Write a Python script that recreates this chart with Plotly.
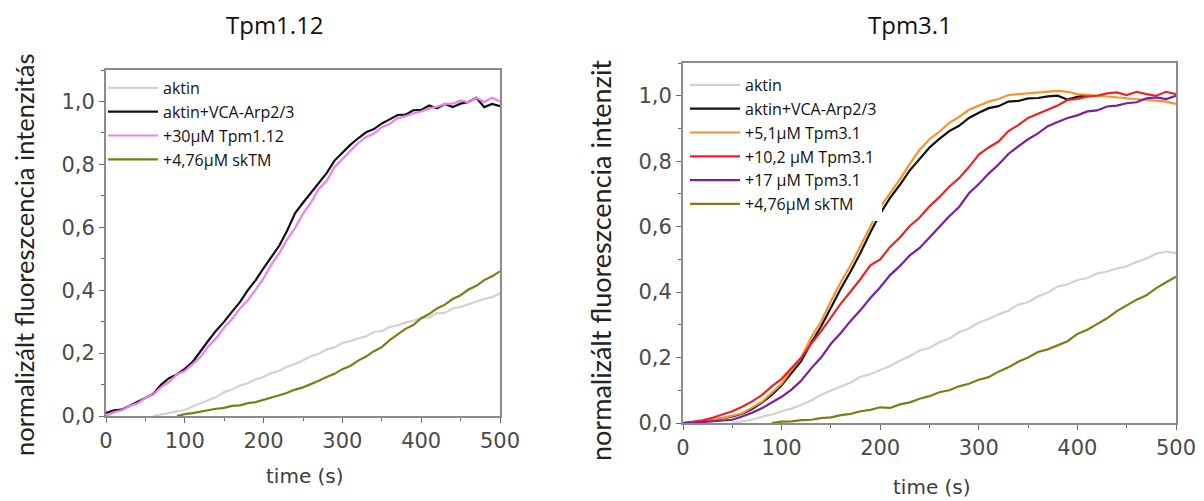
import plotly.graph_objects as go

# ---------------- data (10 s steps) ----------------
t = list(range(0, 510, 10))

# Left panel: Tpm1.12
L_aktin_t = list(range(60, 510, 10))
L_aktin = [0.0, 0.005, 0.01, 0.017, 0.02, 0.03, 0.04, 0.052, 0.06, 0.076, 0.084, 0.097, 0.104,
           0.117, 0.125, 0.137, 0.144, 0.157, 0.165, 0.177, 0.19, 0.198, 0.212, 0.218, 0.232,
           0.238, 0.247, 0.253, 0.267, 0.27, 0.283, 0.288, 0.297, 0.303, 0.312, 0.313, 0.327,
           0.328, 0.342, 0.347, 0.356, 0.363, 0.372, 0.378, 0.39]
L_vca = [0.01, 0.018, 0.02, 0.033, 0.044, 0.058, 0.07, 0.1, 0.12, 0.132, 0.15, 0.172, 0.208,
         0.24, 0.272, 0.3, 0.332, 0.362, 0.4, 0.432, 0.47, 0.508, 0.542, 0.59, 0.645, 0.678,
         0.71, 0.742, 0.772, 0.812, 0.838, 0.862, 0.883, 0.902, 0.912, 0.93, 0.943, 0.957, 0.958,
         0.972, 0.973, 0.987, 0.978, 0.992, 0.982, 0.993, 0.998, 1.012, 0.982, 0.992, 0.985]
L_tpm112 = [0.0, 0.012, 0.018, 0.032, 0.04, 0.057, 0.068, 0.092, 0.108, 0.132, 0.143, 0.167,
            0.188, 0.222, 0.248, 0.282, 0.308, 0.342, 0.368, 0.402, 0.438, 0.482, 0.518, 0.562,
            0.598, 0.643, 0.678, 0.722, 0.748, 0.792, 0.818, 0.843, 0.868, 0.887, 0.898, 0.918,
            0.928, 0.947, 0.953, 0.962, 0.968, 0.978, 0.983, 0.992, 0.993, 1.003, 0.997, 1.012,
            0.998, 1.012, 1.0]
L_sktm_t = list(range(90, 510, 10))
L_sktm = [0.0, 0.006, 0.009, 0.014, 0.017, 0.023, 0.026, 0.032, 0.034, 0.041, 0.044, 0.051,
          0.057, 0.066, 0.074, 0.084, 0.091, 0.101, 0.112, 0.124, 0.134, 0.149, 0.159, 0.176,
          0.189, 0.206, 0.219, 0.241, 0.258, 0.277, 0.289, 0.311, 0.324, 0.342, 0.354, 0.372,
          0.384, 0.402, 0.414, 0.432, 0.444, 0.46]

# Right panel: Tpm3.1
R_aktin_t = list(range(50, 510, 10))
R_aktin = [0.0, 0.006, 0.01, 0.019, 0.026, 0.036, 0.044, 0.056, 0.069, 0.086, 0.099, 0.112,
           0.124, 0.141, 0.149, 0.162, 0.174, 0.191, 0.204, 0.222, 0.229, 0.247, 0.258, 0.277,
           0.289, 0.307, 0.318, 0.332, 0.343, 0.362, 0.369, 0.387, 0.398, 0.417, 0.423, 0.437,
           0.443, 0.457, 0.463, 0.472, 0.479, 0.492, 0.503, 0.517, 0.524, 0.518]
R_vca_t = list(range(0, 420, 10))
R_vca = [0.0, 0.002, 0.004, 0.009, 0.014, 0.02, 0.028, 0.043, 0.062, 0.086, 0.115, 0.152, 0.19,
         0.245, 0.295, 0.352, 0.41, 0.463, 0.52, 0.582, 0.64, 0.688, 0.728, 0.772, 0.808, 0.842,
         0.868, 0.892, 0.908, 0.932, 0.948, 0.962, 0.968, 0.982, 0.984, 0.992, 0.993, 0.998,
         1.0, 0.988, 0.997, 1.002]
R_tpm31_5 = [0.0, 0.003, 0.005, 0.011, 0.015, 0.022, 0.03, 0.047, 0.065, 0.092, 0.12, 0.162,
             0.2, 0.262, 0.31, 0.372, 0.43, 0.482, 0.54, 0.602, 0.66, 0.702, 0.745, 0.792,
             0.835, 0.867, 0.89, 0.917, 0.935, 0.957, 0.97, 0.982, 0.99, 1.002, 1.005, 1.008,
             1.01, 1.013, 1.015, 1.012, 1.005, 1.003, 1.0, 0.997, 0.995, 0.992, 0.99, 0.987,
             0.985, 0.982, 0.975]
R_tpm31_10 = [0.0, 0.003, 0.008, 0.016, 0.025, 0.036, 0.05, 0.066, 0.085, 0.112, 0.135, 0.167,
              0.2, 0.242, 0.28, 0.322, 0.365, 0.402, 0.44, 0.482, 0.5, 0.538, 0.567, 0.602,
              0.628, 0.662, 0.69, 0.722, 0.748, 0.782, 0.82, 0.842, 0.86, 0.892, 0.91, 0.932,
              0.945, 0.957, 0.97, 0.987, 0.99, 0.997, 1.0, 1.007, 1.01, 1.002, 1.012, 1.005,
              1.0, 1.012, 1.005]
R_tpm31_17 = [0.0, 0.0, 0.003, 0.005, 0.008, 0.01, 0.02, 0.031, 0.045, 0.062, 0.08, 0.102,
              0.13, 0.167, 0.2, 0.242, 0.275, 0.312, 0.345, 0.382, 0.415, 0.452, 0.48, 0.512,
              0.535, 0.567, 0.6, 0.632, 0.66, 0.702, 0.73, 0.762, 0.79, 0.822, 0.845, 0.867,
              0.885, 0.907, 0.92, 0.932, 0.94, 0.952, 0.955, 0.967, 0.97, 0.977, 0.98, 0.992,
              0.995, 0.99, 1.0]
R_sktm_t = list(range(90, 510, 10))
R_sktm = [0.0, 0.004, 0.005, 0.009, 0.01, 0.015, 0.017, 0.024, 0.028, 0.036, 0.04, 0.048,
          0.046, 0.057, 0.063, 0.074, 0.082, 0.094, 0.1, 0.112, 0.12, 0.132, 0.14, 0.157, 0.17,
          0.187, 0.2, 0.217, 0.225, 0.237, 0.25, 0.272, 0.285, 0.302, 0.32, 0.342, 0.36, 0.377,
          0.39, 0.412, 0.43, 0.447, 0.46]

x_ticks = [0, 100, 200, 300, 400, 500]
y_ticks = [0.0, 0.2, 0.4, 0.6, 0.8, 1.0]
y_ticktext = ["0,0", "0,2", "0,4", "0,6", "0,8", "1,0"]

# ---------------- figure ----------------
OFF = 8                      # page body margin of the browser
W, H = 1204 - OFF, 501 - OFF
GRAY = "#d2d2d2"
BLACK = "#111111"
PINK = "#ee80ee"
OLIVE = "#7d7d14"
ORANGE = "#f5952c"
RED = "#ee2222"
PURPLE = "#7a1f9e"

fig = go.Figure()
_n = [0]

def add(x, y, name, color, xa, ya, legend):
    _n[0] += 1
    fig.add_trace(go.Scatter(x=x, y=y, name=name, mode="lines",
                             line=dict(color=color, width=2.2),
                             xaxis=xa, yaxis=ya, legend=legend,
                             legendgroup="g%d" % _n[0]))

add(L_aktin_t, L_aktin, "aktin", GRAY, "x", "y", "legend")
add(t, L_vca, "aktin+VCA-Arp2/3", BLACK, "x", "y", "legend")
add(t, L_tpm112, "+30µM Tpm1.12", PINK, "x", "y", "legend")
add(L_sktm_t, L_sktm, "+4,76µM skTM", OLIVE, "x", "y", "legend")

add(R_aktin_t, R_aktin, "aktin", GRAY, "x2", "y2", "legend2")
add(R_vca_t, R_vca, "aktin+VCA-Arp2/3", BLACK, "x2", "y2", "legend2")
add(t, R_tpm31_5, "+5,1µM Tpm3.1", ORANGE, "x2", "y2", "legend2")
add(t, R_tpm31_10, "+10,2 µM Tpm3.1", RED, "x2", "y2", "legend2")
add(t, R_tpm31_17, "+17 µM Tpm3.1", PURPLE, "x2", "y2", "legend2")
add(R_sktm_t, R_sktm, "+4,76µM skTM", OLIVE, "x2", "y2", "legend2")

def px(x):
    return (x - OFF) / W

def py(y):
    return 1 - (y - OFF) / H

tickfont = dict(family="DejaVu Sans", size=21, color="#4a4a4a")
axis_common = dict(showline=True, mirror=True, linecolor="#8c8c8c", linewidth=1.8,
                   ticks="outside", ticklen=5, tickwidth=1.2, tickcolor="#6a6a6a",
                   showgrid=False, zeroline=False, tickfont=tickfont, automargin=False)
xax = dict(axis_common, range=[0, 500], tickvals=x_ticks,
           minor=dict(dtick=50, ticklen=3, ticks="outside", tickcolor="#6a6a6a"))
yax = dict(axis_common, range=[0, 1.1], tickvals=y_ticks, ticktext=y_ticktext,
           minor=dict(dtick=0.1, ticklen=3, ticks="outside", tickcolor="#6a6a6a"))

legfont = dict(family="Open Sans", size=16, color="#111111")

fig.update_layout(
    width=W, height=H,
    margin=dict(l=0, r=0, t=0, b=0, autoexpand=False),
    paper_bgcolor="white", plot_bgcolor="white",
    xaxis=dict(xax, domain=[px(106), px(500)], anchor="y"),
    yaxis=dict(yax, domain=[py(416), py(70)], anchor="x"),
    xaxis2=dict(xax, domain=[px(683), px(1176)], anchor="y2"),
    yaxis2=dict(yax, domain=[py(423), py(63)], anchor="x2"),
    legend=dict(x=px(103), y=py(71), xanchor="left", yanchor="top",
                bgcolor="rgba(255,255,255,0)", font=legfont, tracegroupgap=0,
                itemwidth=50),
    legend2=dict(x=px(685), y=py(68), xanchor="left", yanchor="top",
                 bgcolor="white", font=legfont, tracegroupgap=0, itemwidth=50),
    showlegend=True,
)

title_font = dict(family="Open Sans", size=24, color="#111111")
ytitle_font = dict(family="Lato", size=25.5, color="#222222")
ytitle_font2 = dict(family="Lato", size=27, color="#222222")
xtitle_font = dict(family="DejaVu Sans", size=20, color="#3c3c3c")

ann = [
    dict(text="Tpm1.12", x=px(275), y=py(25), font=title_font),
    dict(text="Tpm3.1", x=px(910), y=py(25), font=title_font),
    dict(text="normalizált fluoreszcencia intenzitás", x=px(24), y=py(255),
         textangle=-90, font=ytitle_font),
    dict(text="normalizált fluoreszcencia intenzit", x=px(600), y=py(261),
         textangle=-90, font=ytitle_font2),
    dict(text="time (s)", x=px(305), y=py(476), font=xtitle_font),
    dict(text="time (s)", x=px(932), y=py(487), font=xtitle_font),
]
for a in ann:
    fig.add_annotation(xref="paper", yref="paper", showarrow=False,
                       xanchor="center", yanchor="middle", **a)

fig.write_html("out.html")
